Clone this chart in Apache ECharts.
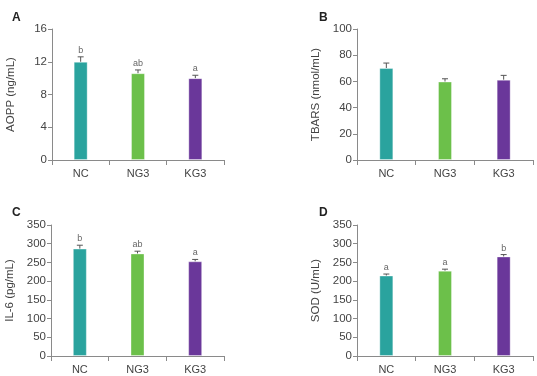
<!DOCTYPE html>
<html>
<head>
<meta charset="utf-8">
<script src="https://cdn.jsdelivr.net/npm/echarts@6/dist/echarts.min.js"></script>
<style>
  html, body { margin: 0; padding: 0; background: #fff; }
  #chart { width: 537px; height: 376px; }
</style>
</head>
<body>
<div id="chart"></div>
<script>
var groups = ['NC', 'NG3', 'KG3'];
var barColors = ['#2aa39e', '#6cc04a', '#6a379a'];

// A - AOPP
var aoppMean = [12.0, 10.6, 10.0];
var aoppUpper = [12.6, 11.0, 10.35];
var aoppLetters = ['b', 'ab', 'a'];
// B - TBARS
var tbarsMean = [70.2, 59.9, 61.3];
var tbarsUpper = [74.0, 62.0, 64.6];
var tbarsLetters = ['', '', ''];
// C - IL-6
var il6Mean = [287, 274, 253];
var il6Upper = [296, 280, 258];
var il6Letters = ['b', 'ab', 'a'];
// D - SOD
var sodMean = [215, 228, 266];
var sodUpper = [219, 232, 271];
var sodLetters = ['a', 'a', 'b'];

var font = 'Liberation Sans, Arial, sans-serif';

var panels = [
  {tag: 'A', name: 'AOPP (ng/mL)', mean: aoppMean, upper: aoppUpper, letters: aoppLetters, max: 16, interval: 4,
   grid: {left: 52, top: 29, width: 172, height: 131}, tagPos: [7, 7]},
  {tag: 'B', name: 'TBARS (nmol/mL)', mean: tbarsMean, upper: tbarsUpper, letters: tbarsLetters, max: 100, interval: 20,
   grid: {left: 357, top: 29, width: 176, height: 131}, tagPos: [314, 7]},
  {tag: 'C', name: 'IL-6 (pg/mL)', mean: il6Mean, upper: il6Upper, letters: il6Letters, max: 350, interval: 50,
   grid: {left: 51, top: 225, width: 173, height: 131}, tagPos: [7, 202]},
  {tag: 'D', name: 'SOD (U/mL)', mean: sodMean, upper: sodUpper, letters: sodLetters, max: 350, interval: 50,
   grid: {left: 357, top: 225, width: 176, height: 131}, tagPos: [314, 202]}
];

// error bar (upper only) + significance letter
function makeErr(letters) {
  return function (params, api) {
    var x = api.value(0);
    var top = api.coord([x, api.value(1)]);
    var end = api.coord([x, api.value(2)]);
    var letter = letters[params.dataIndex];
    var children = [
      {type: 'line', shape: {x1: top[0], y1: top[1], x2: end[0], y2: end[1]}, style: {stroke: '#555', lineWidth: 1}},
      {type: 'line', shape: {x1: end[0] - 3, y1: end[1], x2: end[0] + 3, y2: end[1]}, style: {stroke: '#555', lineWidth: 1}}
    ];
    if (letter) {
      children.push({type: 'text', x: end[0], y: end[1] - 2,
        style: {text: letter, fill: '#666', font: '9px ' + font, align: 'center', verticalAlign: 'bottom'}});
    }
    return {type: 'group', children: children};
  };
}

var grids = [], xAxes = [], yAxes = [], series = [], titles = [];
panels.forEach(function (p, i) {
  grids.push(p.grid);
  titles.push({text: p.tag, left: p.tagPos[0], top: p.tagPos[1],
    textStyle: {fontSize: 12, fontWeight: 'bold', color: '#222', fontFamily: font}});
  xAxes.push({
    type: 'category', gridIndex: i, data: groups,
    axisLine: {lineStyle: {color: '#8a8a8a'}},
    axisTick: {show: true, length: 5, lineStyle: {color: '#8a8a8a'}},
    axisLabel: {color: '#444', fontSize: 11, margin: 8, fontFamily: font}
  });
  yAxes.push({
    type: 'value', gridIndex: i, min: 0, max: p.max, interval: p.interval,
    name: p.name, nameLocation: 'middle', nameGap: 35,
    nameTextStyle: {color: '#444', fontSize: 11.5, fontFamily: font},
    axisLine: {show: true, lineStyle: {color: '#8a8a8a'}},
    axisTick: {show: true, length: 4, lineStyle: {color: '#8a8a8a'}},
    splitLine: {show: false},
    axisLabel: {color: '#444', fontSize: 11.5, margin: 5, fontFamily: font}
  });
  series.push({
    type: 'bar', xAxisIndex: i, yAxisIndex: i, barWidth: 14,
    data: p.mean.map(function (v, k) {
      return {value: v, itemStyle: {color: barColors[k]}};
    }),
    itemStyle: {borderColor: 'rgba(255,255,255,0.35)', borderWidth: 1}
  });
  series.push({
    type: 'custom', xAxisIndex: i, yAxisIndex: i, renderItem: makeErr(p.letters), z: 3,
    data: p.mean.map(function (v, k) {
      return [k, v, p.upper[k]];
    })
  });
});

var myChart = echarts.init(document.getElementById('chart'));
myChart.setOption({
  animation: false,
  title: titles,
  grid: grids,
  xAxis: xAxes,
  yAxis: yAxes,
  series: series
});
</script>
</body>
</html>
